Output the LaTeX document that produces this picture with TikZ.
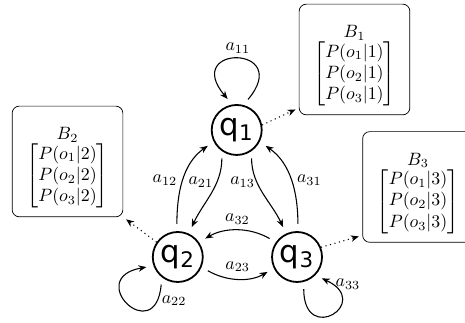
\documentclass[tikz,border=0pt]{standalone}
\usepackage{amsmath}
\usepackage{amssymb}
\usepackage{fontspec}
\usepackage{tikz}
\usepackage{xcolor}
\usetikzlibrary{arrows.meta}
\newfontfamily\statefont{DejaVu Sans}

\begin{document}
\begin{tikzpicture}[>={Stealth[length=4.5pt,width=3.6pt]},
  statenode/.style={circle, draw, line width=1pt, minimum size=28pt, inner sep=0pt, font=\statefont\LARGE},
  trans/.style={->, semithick, shorten >=4pt, shorten <=4pt},
  emit/.style={->, semithick, dotted, shorten >=2pt},
  probbox/.style={draw, rounded corners=4pt, minimum width=62pt, minimum height=62pt, align=center, inner sep=2pt}]
\useasboundingbox (0,0) rectangle (9.152,6.357);

% states
\node[statenode] (q1) at (4.659,3.799) {q$_\text{1}$};
\node[statenode] (q2) at (3.499,1.299) {q$_\text{2}$};
\node[statenode] (q3) at (5.846,1.299) {q$_\text{3}$};

% emission probabilities
\node[probbox] (B1) at (6.977,5.186) {\rule{0pt}{14pt}$B_1$\\ $\begin{bmatrix} P(o_1|1)\\ P(o_2|1)\\ P(o_3|1) \end{bmatrix}$};
\node[probbox] (B2) at (1.329,3.179) {\rule{0pt}{14pt}$B_2$\\ $\begin{bmatrix} P(o_1|2)\\ P(o_2|2)\\ P(o_3|2) \end{bmatrix}$};
\node[probbox] (B3) at (8.227,2.677) {\rule{0pt}{14pt}$B_3$\\ $\begin{bmatrix} P(o_1|3)\\ P(o_2|3)\\ P(o_3|3) \end{bmatrix}$};

% transitions
\draw[trans] (q1.75) to[out=50, in=130, distance=44pt] node[above] {$a_{11}$} (q1.100);
\draw[trans] (q2.232) to[out=265, in=190, distance=40pt] node[pos=0.15, right] {$a_{22}$} (q2.200);
\draw[trans] (q3.-75) to[out=-90, in=-25, distance=36pt] node[pos=0.9, right] {$a_{33}$} (q3.-45);
\draw[trans] (q2.92) to[out=90, in=215] node[left] {$a_{12}$} (q1.207);
\draw[trans] (q1.235) to[out=270, in=65] node[pos=0.35, left=-2pt] {$a_{21}$} (q2.65);
\draw[trans] (q1.305) to[out=270, in=115] node[pos=0.35, left=-2pt] {$a_{13}$} (q3.115);
\draw[trans] (q3.88) to[out=90, in=-35] node[right] {$a_{31}$} (q1.333);
\draw[trans] (q3.145) to[out=150, in=30] node[above] {$a_{32}$} (q2.35);
\draw[trans] (q2.-23) to[out=-30, in=210] node[above] {$a_{23}$} (q3.206);

% emissions
\draw[emit] (q1.11) -- (B1.221);
\draw[emit] (q2.145) -- (B2.south east);
\draw[emit] (q3.22) -- (B3.221);
\end{tikzpicture}
\end{document}
